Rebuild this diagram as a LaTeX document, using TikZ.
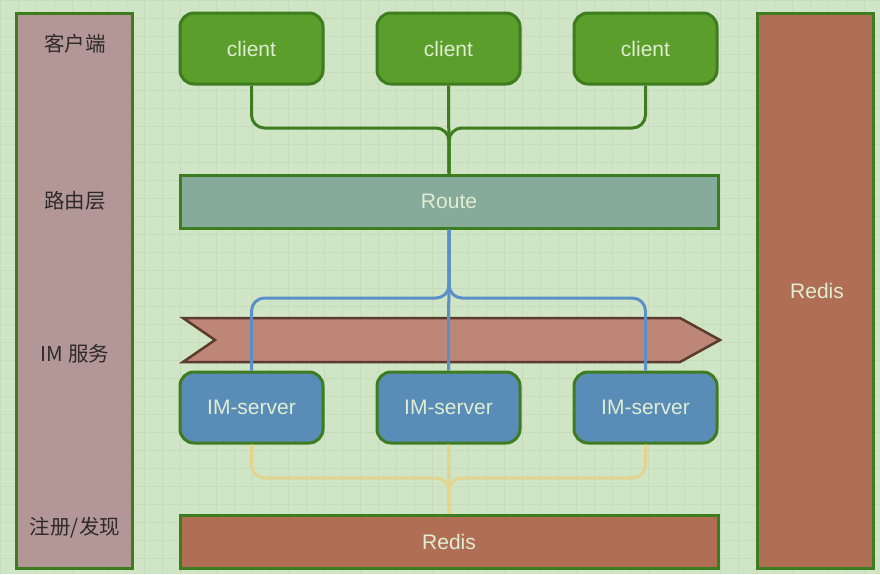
\documentclass[tikz,border=0pt]{standalone}
\usepackage{fontspec}
\setmainfont{Liberation Sans}
\newfontfamily\cjk{Noto Sans CJK SC}
\usetikzlibrary{calc}
\definecolor{bg}{HTML}{D0E4C6}
\definecolor{gridc}{HTML}{C6DBBC}
\definecolor{bord}{HTML}{3E7D1F}
\definecolor{leftfill}{HTML}{B39797}
\definecolor{clientfill}{HTML}{5C9E2C}
\definecolor{lighttext}{HTML}{DFEDD3}
\definecolor{routefill}{HTML}{86AB9A}
\definecolor{imfill}{HTML}{5A8CB8}
\definecolor{ribfill}{HTML}{BD8677}
\definecolor{ribbord}{HTML}{5B3B2B}
\definecolor{redisfill}{HTML}{B06F55}
\definecolor{blueline}{HTML}{5B8FC8}
\definecolor{yelline}{HTML}{E3D68C}
\definecolor{darktext}{HTML}{2E2A2A}
\tikzset{
  box/.style={draw=bord, line width=3pt, inner sep=0pt, font=\fontsize{21}{21}\selectfont, text=lighttext},
  clientbox/.style={box, fill=clientfill, rounded corners=14pt, minimum width=143pt, minimum height=71pt},
  imbox/.style={box, fill=imfill, rounded corners=14pt, minimum width=143pt, minimum height=71pt},
  widebox/.style={box, minimum width=538pt, minimum height=53pt},
  layerlabel/.style={font=\cjk\fontsize{20.5}{20.5}\selectfont, text=darktext},
  gline/.style={draw=bord, line width=3pt, rounded corners=13pt},
  bline/.style={draw=blueline, line width=3pt, rounded corners=13pt},
  yline/.style={draw=yelline, line width=3pt, rounded corners=13pt}
}
\begin{document}
\begin{tikzpicture}[x=1pt, y=-1pt]
\useasboundingbox (0,0) rectangle (880,574);
\fill[bg] (0,0) rectangle (880,574);
\foreach \g in {0,18,...,880} \draw[gridc, line width=0.7pt] (\g,0) -- (\g,574);
\foreach \g in {0,18,...,574} \draw[gridc, line width=0.7pt] (0,\g) -- (880,\g);

% side columns
\node[box, fill=leftfill, minimum width=116pt, minimum height=555pt] (left) at (74,290.5) {};
\node[box, fill=redisfill, minimum width=116pt, minimum height=555pt] (redisr) at (815,290.5) {};
\node[text=lighttext, font=\fontsize{21}{21}\selectfont] (redisrlabel) at (817,291) {Redis};

\node[layerlabel] (l1) at (75,44) {客户端};
\node[layerlabel] (l2) at (75,201) {路由层};
\node[layerlabel] (l3) at (75,354) {IM 服务};
\node[layerlabel] (l4) at (75,528) {注册/发现};

% clients
\node[clientbox] (c1) at (251.5,48.5) {client};
\node[clientbox] (c2) at (448.5,48.5) {client};
\node[clientbox] (c3) at (645.5,48.5) {client};

% route
\node[widebox, fill=routefill] (route) at (449,201.5) {Route};

% ribbon
\draw[fill=ribfill, draw=ribbord, line width=2.5pt, line join=miter]
  (183,318) -- (680,318) -- (720,340) -- (680,362) -- (183,362) -- (215,340) -- cycle;

% IM servers
\node[imbox] (s1) at (251.5,407.5) {IM-server};
\node[imbox] (s2) at (448.5,407.5) {IM-server};
\node[imbox] (s3) at (645.5,407.5) {IM-server};

% redis bottom
\node[widebox, fill=redisfill] (redisb) at (449,541.5) {Redis};

% junction coordinates
\coordinate (gj) at (449,128);
\coordinate (bj) at (449,298);
\coordinate (yj) at (449,478);

% green connectors
\path[gline] (c1.south) |- (gj) -- (route.north);
\path[gline] (c3.south) |- (gj) -- (route.north);
\path[gline] (c2.south) -- (route.north);

% blue connectors
\path[bline] (route.south) -- (bj) -| (s1.north);
\path[bline] (route.south) -- (bj) -| (s3.north);
\path[bline] (route.south) -- (s2.north);

% yellow connectors
\path[yline] (s1.south) |- (yj) -- (redisb.north);
\path[yline] (s3.south) |- (yj) -- (redisb.north);
\path[yline] (s2.south) -- (redisb.north);
\end{tikzpicture}
\end{document}
